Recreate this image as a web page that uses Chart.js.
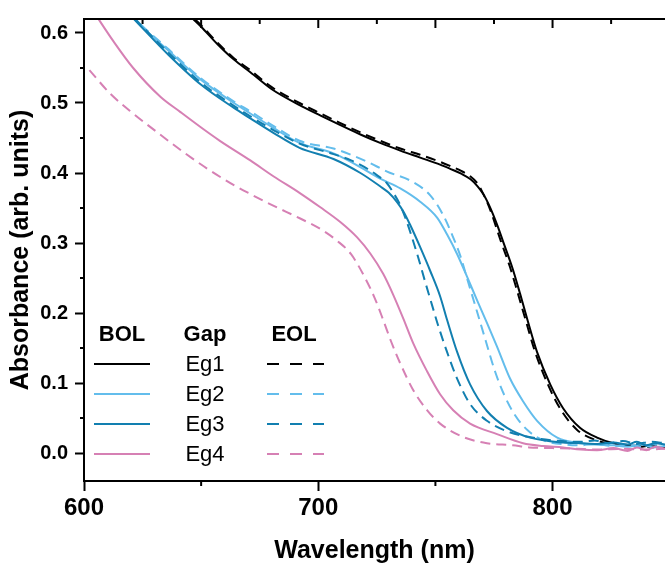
<!DOCTYPE html>
<html>
<head>
<meta charset="utf-8">
<script src="https://cdn.jsdelivr.net/npm/chart.js@4.4.1/dist/chart.umd.min.js"></script>
<style>
  html, body { margin: 0; padding: 0; background: #fff; }
</style>
</head>
<body>
<canvas id="absChart" width="665" height="570"></canvas>
<script>
// Absorbance spectra, BOL (solid) vs EOL (dashed) for four band gaps
const gaps = ['Eg1', 'Eg2', 'Eg3', 'Eg4'];

const eg1BolX = [638, 646, 650, 657, 664, 671, 680, 692, 701, 709, 718, 726.4, 735, 743.5, 752, 756.3, 761, 765, 768, 770.4, 772.5, 774.6, 776.8, 778.9, 782.7, 786.1, 789.3, 793.4, 799, 804.5, 811.7, 819, 826, 833, 838, 842, 846, 850];
const eg1BolY = [0.650, 0.622, 0.609, 0.584, 0.562, 0.544, 0.520, 0.497, 0.482, 0.469, 0.455, 0.443, 0.432, 0.422, 0.412, 0.406, 0.399, 0.391, 0.381, 0.370, 0.357, 0.341, 0.322, 0.302, 0.266, 0.228, 0.190, 0.144, 0.098, 0.064, 0.036, 0.022, 0.014, 0.011, 0.009, 0.011, 0.008, 0.010];
const eg1EolX = [638, 646, 650, 657, 664, 671, 680, 692, 701, 709, 718, 726.4, 735, 743.5, 752, 756.3, 761, 765, 768, 770, 772, 774, 776, 778, 781.8, 785.2, 788.5, 792.6, 798, 803.5, 810.5, 818, 826, 833, 838, 842, 846, 850];
const eg1EolY = [0.652, 0.624, 0.611, 0.586, 0.564, 0.547, 0.523, 0.500, 0.485, 0.472, 0.458, 0.446, 0.435, 0.426, 0.416, 0.410, 0.403, 0.395, 0.385, 0.373, 0.359, 0.342, 0.322, 0.302, 0.266, 0.228, 0.190, 0.144, 0.098, 0.062, 0.033, 0.019, 0.012, 0.010, 0.011, 0.008, 0.010, 0.009];

const eg2BolX = [612, 621, 636, 650, 664, 671, 681, 692, 706.5, 716, 726.4, 735, 743.5, 750.8, 755, 759.3, 763.5, 767.8, 772, 776.3, 781.9, 787.4, 793.4, 802, 812, 818, 826, 832, 838, 843, 848];
const eg2BolY = [0.664, 0.622, 0.575, 0.533, 0.500, 0.485, 0.464, 0.443, 0.428, 0.412, 0.392, 0.378, 0.359, 0.336, 0.312, 0.284, 0.252, 0.218, 0.186, 0.152, 0.106, 0.074, 0.046, 0.022, 0.014, 0.012, 0.011, 0.009, 0.012, 0.008, 0.010];
const eg2EolX = [612, 621, 636, 650, 664, 671, 681, 692, 706.5, 714, 721, 729.4, 740.5, 747.8, 753.3, 757.1, 760.6, 764, 767.5, 771.5, 775.5, 779.5, 784, 789.5, 797, 806, 812, 818, 826, 832, 838, 843, 848];
const eg2EolY = [0.666, 0.624, 0.577, 0.535, 0.502, 0.488, 0.467, 0.446, 0.435, 0.426, 0.416, 0.402, 0.387, 0.368, 0.340, 0.312, 0.282, 0.244, 0.205, 0.160, 0.116, 0.082, 0.054, 0.032, 0.017, 0.012, 0.011, 0.013, 0.010, 0.012, 0.009, 0.012, 0.011];

const eg3BolX = [612, 620.7, 636, 650, 664, 671, 681, 692, 706.5, 718, 726.4, 730, 733.7, 736.5, 739.2, 743.5, 747.8, 752, 755, 759.3, 764.8, 772, 780.6, 790.4, 804.5, 812, 819, 826, 832, 836, 840, 844, 848];
const eg3BolY = [0.652, 0.622, 0.569, 0.526, 0.493, 0.478, 0.457, 0.436, 0.420, 0.400, 0.381, 0.372, 0.358, 0.344, 0.326, 0.294, 0.260, 0.224, 0.190, 0.144, 0.098, 0.060, 0.036, 0.022, 0.015, 0.014, 0.013, 0.015, 0.012, 0.016, 0.011, 0.014, 0.012];
const eg3EolX = [612, 620.7, 636, 650, 664, 671, 681, 692, 706.5, 714, 721, 725, 729.4, 732, 735, 737.5, 740, 742.6, 745.5, 748.5, 751, 755, 759.3, 764.8, 772, 780.6, 793, 804, 812, 818, 824, 830, 836, 842, 848];
const eg3EolY = [0.654, 0.624, 0.572, 0.529, 0.496, 0.481, 0.461, 0.442, 0.427, 0.418, 0.406, 0.397, 0.385, 0.372, 0.354, 0.333, 0.308, 0.280, 0.246, 0.212, 0.184, 0.144, 0.106, 0.070, 0.046, 0.031, 0.021, 0.017, 0.016, 0.018, 0.014, 0.017, 0.013, 0.016, 0.014];

const eg4BolX = [600, 605.8, 612.6, 621, 632.6, 641.2, 650, 658, 671, 681, 692.3, 700.9, 709.4, 716.6, 722.2, 727.7, 732, 736.3, 740.5, 746.4, 752, 757.6, 764.8, 776.3, 787.4, 796, 804.5, 812, 819, 826, 832, 836, 840, 844, 848];
const eg4BolY = [0.652, 0.622, 0.588, 0.550, 0.509, 0.487, 0.465, 0.446, 0.418, 0.395, 0.371, 0.351, 0.330, 0.308, 0.285, 0.256, 0.226, 0.192, 0.157, 0.117, 0.084, 0.061, 0.042, 0.027, 0.014, 0.010, 0.008, 0.005, 0.004, 0.007, 0.003, 0.008, 0.004, 0.009, 0.006];
const eg4EolX = [602.3, 611.3, 621, 631.3, 642.4, 652.7, 663.8, 671, 681, 692.3, 700.9, 708.1, 714, 720, 724, 727.5, 731, 735, 740.5, 746.5, 752, 761.8, 772, 783, 790, 800, 810, 820, 830, 840, 848];
const eg4EolY = [0.547, 0.513, 0.485, 0.458, 0.430, 0.406, 0.383, 0.370, 0.353, 0.335, 0.320, 0.303, 0.284, 0.250, 0.222, 0.192, 0.160, 0.128, 0.090, 0.061, 0.042, 0.023, 0.014, 0.011, 0.008, 0.007, 0.006, 0.005, 0.006, 0.005, 0.006];

// axis ticks
const xMajorTicks = [600, 700, 800];
const xMinorTicks = [650, 750];
const topMajorTicks = [650, 700, 750, 800];
const topMinorTicks = [625, 675, 725, 775, 825];
const yMajorTicks = [0.0, 0.1, 0.2, 0.3, 0.4, 0.5, 0.6];
const yMinorTicks = [0.05, 0.15, 0.25, 0.35, 0.45, 0.55];

const gapColors = ['#000000', '#63bdec', '#127fb0', '#d680b4'];
const dashData = [10, 6];
const dashLegend = [12, 11];

const toPoints = (xs, ys) => xs.map((x, i) => ({ x: x, y: ys[i] }));

const bolSets = [[eg1BolX, eg1BolY], [eg2BolX, eg2BolY], [eg3BolX, eg3BolY], [eg4BolX, eg4BolY]];
const eolSets = [[eg1EolX, eg1EolY], [eg2EolX, eg2EolY], [eg3EolX, eg3EolY], [eg4EolX, eg4EolY]];

const datasets = [];
// draw pink first, black last so black stays on top
for (let i = gaps.length - 1; i >= 0; i--) {
  datasets.push({
    label: gaps[i] + ' EOL',
    data: toPoints(eolSets[i][0], eolSets[i][1]),
    borderColor: gapColors[i],
    borderWidth: 2,
    borderDash: dashData,
    pointRadius: 0,
    cubicInterpolationMode: 'monotone',
    fill: false
  });
  datasets.push({
    label: gaps[i] + ' BOL',
    data: toPoints(bolSets[i][0], bolSets[i][1]),
    borderColor: gapColors[i],
    borderWidth: 2,
    pointRadius: 0,
    cubicInterpolationMode: 'monotone',
    fill: false
  });
}

const FONT = '"Liberation Sans", Arial, sans-serif';

// frame, top ticks, minor ticks and the BOL / Gap / EOL legend table
const framePlugin = {
  id: 'frameAndLegend',
  afterDraw(chart) {
    const { ctx, chartArea: area, scales } = chart;
    const xs = scales.x, ys = scales.y;
    ctx.save();
    ctx.strokeStyle = '#000';
    ctx.lineWidth = 2;

    // top border
    ctx.beginPath();
    ctx.moveTo(area.left - 1, area.top);
    ctx.lineTo(area.right, area.top);
    ctx.stroke();

    const tick = (x1, y1, x2, y2) => {
      ctx.beginPath(); ctx.moveTo(x1, y1); ctx.lineTo(x2, y2); ctx.stroke();
    };
    topMajorTicks.forEach(v => { const px = xs.getPixelForValue(v); tick(px, area.top, px, area.top + 9); });
    topMinorTicks.forEach(v => { const px = xs.getPixelForValue(v); tick(px, area.top, px, area.top + 5); });
    xMinorTicks.forEach(v => { const px = xs.getPixelForValue(v); tick(px, area.bottom, px, area.bottom + 5); });
    yMinorTicks.forEach(v => { const py = ys.getPixelForValue(v); tick(area.left, py, area.left - 4, py); });

    // legend table
    const L = area.left, B = area.bottom;
    ctx.fillStyle = '#000';
    ctx.textAlign = 'center';
    ctx.textBaseline = 'middle';
    ctx.font = 'bold 22px ' + FONT;
    ctx.fillText('BOL', L + 38, B - 146);
    ctx.fillText('Gap', L + 121, B - 146);
    ctx.fillText('EOL', L + 210, B - 146);
    ctx.font = '22px ' + FONT;
    gaps.forEach((g, i) => {
      const y = B - 117 + i * 30;
      ctx.strokeStyle = gapColors[i];
      ctx.setLineDash([]);
      tick(L + 10, y, L + 66, y);
      ctx.setLineDash(dashLegend);
      tick(L + 183, y, L + 240, y);
      ctx.setLineDash([]);
      ctx.fillStyle = '#000';
      ctx.fillText(g, L + 121, y + 1);
    });
    ctx.restore();
  }
};

new Chart(document.getElementById('absChart'), {
  type: 'line',
  data: { datasets: datasets },
  options: {
    responsive: false,
    animation: false,
    layout: { padding: { top: 9, right: 0, left: 0, bottom: 0 } },
    plugins: { legend: { display: false }, tooltip: { enabled: false } },
    scales: {
      x: {
        type: 'linear',
        min: 600,
        max: 848,
        afterFit: s => { s.height = 89; },
        afterBuildTicks: s => { s.ticks = xMajorTicks.map(v => ({ value: v })); },
        grid: { drawOnChartArea: false, tickLength: 10, tickWidth: 2, color: '#000' },
        border: { display: true, color: '#000', width: 2 },
        ticks: { color: '#000', font: { family: FONT, size: 24, weight: 'bold' }, padding: 3, maxRotation: 0 },
        title: { display: true, text: 'Wavelength (nm)', color: '#000', font: { family: FONT, size: 25, weight: 'bold' }, padding: { top: 9 } }
      },
      y: {
        min: -0.04,
        max: 0.62,
        afterFit: s => { s.width = 84; },
        afterBuildTicks: s => { s.ticks = yMajorTicks.map(v => ({ value: v })); },
        grid: { drawOnChartArea: false, tickLength: 9, tickWidth: 2, color: '#000' },
        border: { display: true, color: '#000', width: 2 },
        ticks: { color: '#000', font: { family: FONT, size: 20, weight: 'bold' }, padding: 7, callback: v => v.toFixed(1) },
        title: { display: true, text: 'Absorbance (arb. units)', color: '#000', font: { family: FONT, size: 25, weight: 'bold' }, padding: { bottom: 4, top: 6 } }
      }
    }
  },
  plugins: [framePlugin]
});
</script>
</body>
</html>
